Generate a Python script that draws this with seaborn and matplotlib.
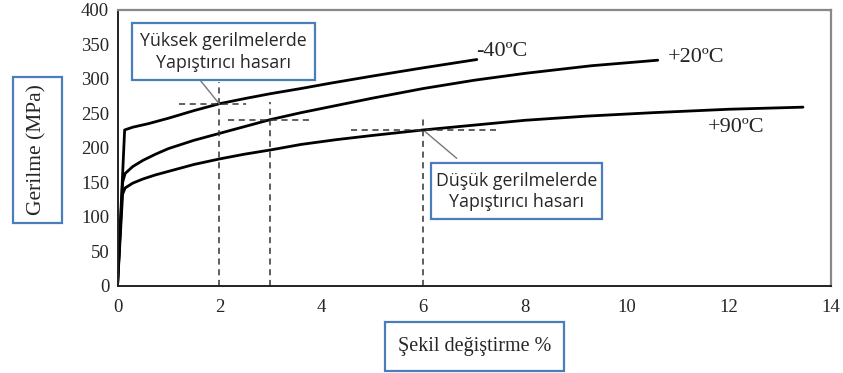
import matplotlib
matplotlib.use("Agg")
import matplotlib.pyplot as plt
import seaborn as sns
import pandas as pd
from matplotlib.patches import Rectangle

# ---- data ----
strain_m40 = [0, 0.14, 0.3, 0.6, 1.0, 1.5, 2.0, 2.5, 3.0, 3.6, 4.2, 5.0, 6.0, 7.05]
stress_m40 = [0, 226, 230, 235, 243, 254, 264, 271.5, 278.5, 286, 294, 304, 316, 328]

strain_p20 = [0, 0.10, 0.15, 0.3, 0.5, 0.75, 1.0, 1.5, 2.0, 2.5, 3.0, 3.6, 4.2, 5.0,
              6.0, 7.0, 8.0, 9.3, 10.6]
stress_p20 = [0, 150, 163, 173, 182, 191, 199, 211, 221, 231, 241, 251, 260, 272,
              286, 298, 308, 319, 327]

strain_p90 = [0, 0.10, 0.15, 0.3, 0.5, 0.75, 1.0, 1.5, 2.0, 2.5, 3.0, 3.6, 4.3, 5.0,
              6.0, 7.0, 8.0, 9.2, 10.5, 12.0, 13.45]
stress_p90 = [0, 133, 142, 149, 155, 161, 166, 176, 184, 191, 197, 205, 212, 218,
              226, 233, 240, 246, 251, 256, 259]

series_names = ["-40ºC", "+20ºC", "+90ºC"]

guide_x = [2, 3, 6]
guide_top = [296, 267, 246]
hguide_y = [263.5, 240.5, 225.5]
hguide_x0 = [1.2, 2.17, 4.59]
hguide_x1 = [2.53, 3.83, 7.42]

x_ticks = [0, 2, 4, 6, 8, 10, 12, 14]
y_ticks = [0, 50, 100, 150, 200, 250, 300, 350, 400]

rows = []
for name, xs, ys in zip(series_names,
                        [strain_m40, strain_p20, strain_p90],
                        [stress_m40, stress_p20, stress_p90]):
    for i, (x, y) in enumerate(zip(xs, ys)):
        rows.append({"series": name, "order": i, "strain": x, "stress": y})
df = pd.DataFrame(rows)

sns.set_style("white")
serif = ["Liberation Serif", "DejaVu Serif"]
sans = ["Open Sans", "DejaVu Sans"]
plt.rcParams["font.family"] = serif

W, H = 843, 373
fig = plt.figure(figsize=(W / 100, H / 100), dpi=100)
ax = fig.add_axes([117.5 / W, 1 - 286 / H, (831 - 117.5) / W, (286 - 9.8) / H])

sns.lineplot(data=df, x="strain", y="stress", hue="series", units="series",
             estimator=None, sort=False, palette=["black"] * 3,
             linewidth=2.0, legend=False, ax=ax)

dash = (0, (4, 3))
ax.vlines(guide_x, 0, guide_top, colors="#333333", linestyles=[dash], linewidth=1.1)
ax.hlines(hguide_y, hguide_x0, hguide_x1, colors="#333333", linestyles=[dash], linewidth=1.1)

ax.set_xlim(0, 14)
ax.set_ylim(0, 400)
ax.set_xticks(x_ticks)
ax.set_yticks(y_ticks)
ax.set_xticklabels([str(t) for t in x_ticks], fontsize=13.5, family=serif)
ax.set_yticklabels([str(t) for t in y_ticks], fontsize=13.5, family=serif)
ax.tick_params(axis="x", direction="in", length=5, pad=9, color="#333333")
ax.tick_params(axis="y", direction="in", length=5, pad=6, color="#333333")
ax.set_xlabel("")
ax.set_ylabel("")
for s in ["left", "bottom"]:
    ax.spines[s].set_color("#222222")
    ax.spines[s].set_linewidth(1.4)
for s in ["top", "right"]:
    ax.spines[s].set_color("#888888")
    ax.spines[s].set_linewidth(1.6)

# series labels
ax.text(476, H - 52, "-40ºC", transform=None, fontsize=16, family=serif, va="center", ha="left")
ax.text(668, H - 57, "+20ºC", transform=None, fontsize=16, family=serif, va="center", ha="left")
ax.text(708, H - 128, "+90ºC", transform=None, fontsize=16, family=serif, va="center", ha="left")

box_color = "#4a7ebb"

def px_box(x0, y0, x1, y1):
    # pixel coords with y from top
    r = Rectangle((x0 / W, 1 - y1 / H), (x1 - x0) / W, (y1 - y0) / H,
                  transform=fig.transFigure, facecolor="white",
                  edgecolor=box_color, linewidth=1.6, zorder=5)
    fig.patches.append(r)

# y label box
px_box(13.3, 77.3, 61.7, 223.3)
fig.text(37 / W, 1 - 150 / H, "Gerilme (MPa)", rotation=90, ha="center", va="center",
         fontsize=15.5, family=serif, zorder=6)

# x label box
px_box(385, 321.7, 564, 370.7)
fig.text(474.5 / W, 1 - 347 / H, "Şekil değiştirme %", ha="center", va="center",
         fontsize=14.5, family=serif, zorder=6)

# annotation boxes with leader lines
ax.annotate("", xy=(2, 263.5), xytext=(200, H - 80), textcoords="figure pixels",
            arrowprops=dict(arrowstyle="-", color="#777777", lw=1.0, shrinkA=0, shrinkB=0))
px_box(131.7, 23.3, 315, 80)
fig.text(223.3 / W, 1 - 52 / H, "Yüksek gerilmelerde\nYapıştırıcı hasarı",
         ha="center", va="center", fontsize=12.8, family=sans, linespacing=1.25, zorder=6)

ax.annotate("", xy=(6.03, 224), xytext=(456.7, H - 158.3), textcoords="figure pixels",
            arrowprops=dict(arrowstyle="-", color="#777777", lw=1.0, shrinkA=0, shrinkB=0))
px_box(430.7, 163.3, 601.7, 219)
fig.text(516.2 / W, 1 - 191.5 / H, "Düşük gerilmelerde\nYapıştırıcı hasarı",
         ha="center", va="center", fontsize=12.8, family=sans, linespacing=1.25, zorder=6)

fig.savefig("out.png", dpi=100)
